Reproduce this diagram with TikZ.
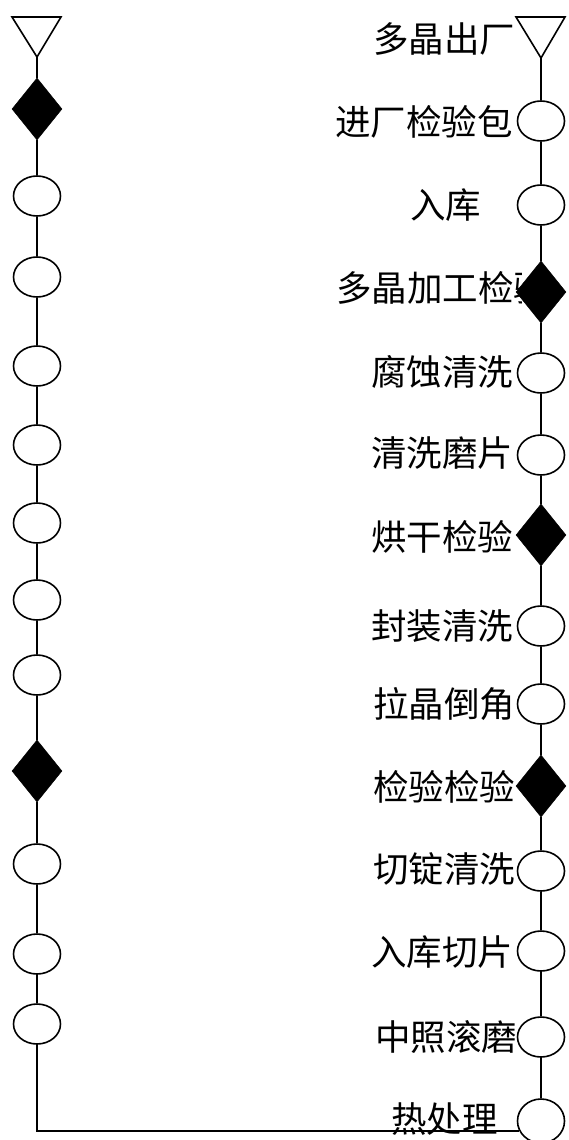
\documentclass[tikz,border=0pt]{standalone}
\usepackage{fontspec}
\setmainfont{Liberation Serif}
\newfontfamily\cjk{Noto Sans CJK SC}
\usetikzlibrary{shapes.geometric}
\tikzset{
  oval/.style={ellipse, draw, fill=white, line width=1.6pt, inner sep=0pt, minimum width=47pt, minimum height=40pt},
  chk/.style={diamond, draw, fill=black, line width=0.5pt, inner sep=0pt, minimum width=50pt, minimum height=62pt},
  tri/.style={draw, fill=white, line width=1.6pt, line join=miter},
  lbl/.style={anchor=west, inner sep=0pt, font=\cjk\fontsize{35.5}{36}\selectfont},
  con/.style={line width=1.8pt},
}
\begin{document}
\begin{tikzpicture}[x=1pt,y=-1pt]
\useasboundingbox (0,0) rectangle (568,1140);
% labels
\node[lbl] (t1) at (373,39) {多晶出厂};
\node[lbl] (t2) at (335,122) {进厂检验包};
\node[lbl] (t3) at (410,205) {入库};
\begin{scope}
\clip (300,250) rectangle (521,330);
\node[lbl] (t4) at (336,288) {多晶加工检验};
\end{scope}
\node[lbl] (t5) at (371,372) {腐蚀清洗};
\node[lbl] (t6) at (371,453) {清洗磨片};
\node[lbl] (t7) at (371,537) {烘干检验};
\node[lbl] (t8) at (371,626) {封装清洗};
\node[lbl] (t9) at (373,704) {拉晶倒角};
\node[lbl] (t10) at (373,787) {检验检验};
\node[lbl] (t11) at (373,869) {切锭清洗};
\node[lbl] (t12) at (371,952) {入库切片};
\node[lbl] (t13) at (375,1037) {中照滚磨};
\node[lbl] (t14) at (391,1119) {热处理};
% left column
\draw[tri] (12,17) -- (61,17) -- (37,57) -- cycle;
\coordinate (ltip) at (37,57);
\node[chk] (l1) at (37,109) {};
\node[oval] (l2) at (37,196) {};
\node[oval] (l3) at (37,277) {};
\node[oval] (l4) at (37,366) {};
\node[oval] (l5) at (37,445) {};
\node[oval] (l6) at (37,523) {};
\node[oval] (l7) at (37,600) {};
\node[oval] (l8) at (37,675) {};
\node[chk] (l9) at (37,771) {};
\node[oval] (l10) at (37,864) {};
\node[oval] (l11) at (37,954) {};
\node[oval] (l12) at (37,1024) {};
% right column
\draw[tri] (516,17) -- (565,17) -- (541,58) -- cycle;
\coordinate (rtip) at (541,58);
\node[oval] (r1) at (541,121) {};
\node[oval] (r2) at (541,205) {};
\node[chk] (r3) at (541,292) {};
\node[oval] (r4) at (541,373) {};
\node[oval] (r5) at (541,455) {};
\node[chk] (r6) at (541,535) {};
\node[oval] (r7) at (541,626) {};
\node[oval] (r8) at (541,704) {};
\node[chk] (r9) at (541,786) {};
\node[oval] (r10) at (541,871) {};
\node[oval] (r11) at (541,951) {};
\node[oval] (r12) at (541,1037) {};
\node[oval, minimum height=44pt] (r13) at (541,1121) {};
\coordinate (corner) at (l12 |- r13.204);
% connectors
\draw[con] (ltip) -- (l1);
\foreach \a/\b in {l1/l2,l2/l3,l3/l4,l4/l5,l5/l6,l6/l7,l7/l8,l8/l9,l9/l10,l10/l11,l11/l12}
  \draw[con] (\a) -- (\b);
\draw[con, line join=miter] (l12) -- (corner) -- (r13.204);
\draw[con] (rtip) -- (r1);
\foreach \a/\b in {r1/r2,r2/r3,r3/r4,r4/r5,r5/r6,r6/r7,r7/r8,r8/r9,r9/r10,r10/r11,r11/r12,r12/r13}
  \draw[con] (\a) -- (\b);
\end{tikzpicture}
\end{document}
